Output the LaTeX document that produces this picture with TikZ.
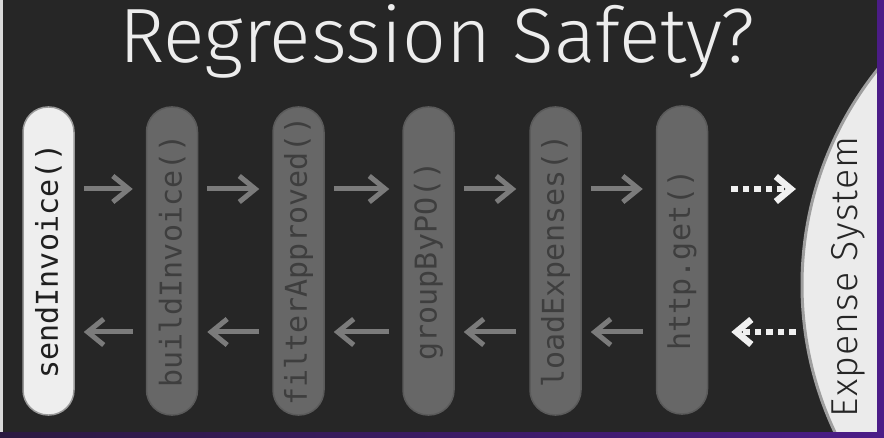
\documentclass[tikz,border=0pt]{standalone}
\usepackage{fontspec}
\setmonofont{DejaVu Sans Mono}
\newfontfamily\lightfont{Fira Sans Light}
\newfontfamily\lightfontsp{Fira Sans Light}[LetterSpace=3]
\usetikzlibrary{arrows.meta,calc}
\definecolor{bg}{HTML}{262626}
\definecolor{pillgray}{HTML}{676767}
\definecolor{pillline}{HTML}{5A5A5A}
\definecolor{pilltext}{HTML}{3E3E3E}
\definecolor{arrgray}{HTML}{7B7B7B}
\definecolor{pillwhite}{HTML}{EEEEEE}
\definecolor{purplebar}{HTML}{4B1C87}
\definecolor{purpledark}{HTML}{2B1A40}
\definecolor{sysfill}{HTML}{EBEBEB}
\begin{document}
\begin{tikzpicture}[x=1pt,y=-1pt,
  pill/.style={draw=pillline, line width=1.5pt, fill=pillgray, text=pilltext,
    minimum width=51pt, minimum height=308pt, rounded corners=25pt, inner sep=0pt,
    font=\ttfamily\fontsize{30}{30}\selectfont},
  pillfirst/.style={pill, fill=pillwhite, draw=gray!80, text=black!88},
  arr/.style={draw=arrgray, line width=5pt,
    -{Straight Barb[length=16pt,width=26pt]}},
  dotarr/.style={draw=white!94!black, line width=6.5pt, dash pattern=on 6.5pt off 5pt,
    -{Straight Barb[length=15pt,width=25pt]}}]
\useasboundingbox (0,0) rectangle (884,438);
\fill[bg] (0,0) rectangle (884,438);
% system shape
\begin{scope}
  \clip (0,0) rectangle (877,432);
  \draw[fill=sysfill, draw=gray!75, line width=3pt] (1147,285) circle[radius=345];
\end{scope}
% frame bars
\fill[white!85!black] (0,0) rectangle (3,432);
\fill[purplebar] (877,0) rectangle (884,438);
\shade[left color=purpledark, right color=purplebar] (0,432) rectangle (877,438);
% title
\node[text=white!93!black, font=\lightfont\fontsize{77}{77}\selectfont, anchor=base] (title) at (437,63) {Regression Safety?};
% pills
\node[pillfirst] (p1) at (48.5,261) {\rotatebox{90}{sendInvoice()}};
\node[pill] (p2) at (172,261) {\rotatebox{90}{buildInvoice()}};
\node[pill] (p3) at (298.5,261) {\rotatebox{90}{filterApproved()}};
\node[pill] (p4) at (428.5,261) {\rotatebox{90}{groupByPO()}};
\node[pill] (p5) at (555.5,261) {\rotatebox{90}{loadExpenses()}};
\node[pill] (p6) at (682,260) {\rotatebox{90}{http.get()}};
% external system label
\node[inner sep=0pt, text=black!85, font=\lightfontsp\fontsize{37.5}{37.5}\selectfont] (es) at (848,277) {\rotatebox{90}{Expense System}};
% arrows
\coordinate (up) at (0,189);
\coordinate (dn) at (0,332);
\foreach \a/\b in {p1/p2,p2/p3,p3/p4,p4/p5,p5/p6} {
  \draw[arr] ($(\a.east |- up)+(9,0)$) -- ($(\b.west |- up)+(-13,0)$);
  \draw[arr] ($(\b.west |- dn)+(-13,0)$) -- ($(\a.east |- dn)+(9,0)$);
}
\draw[dotarr] ($(p6.east |- up)+(23,0)$) -- ($(es.west |- up)+(-35,0)$);
\draw[dotarr] ($(es.west |- dn)+(-35,0)$) -- ($(p6.east |- dn)+(23,0)$);
\end{tikzpicture}
\end{document}
